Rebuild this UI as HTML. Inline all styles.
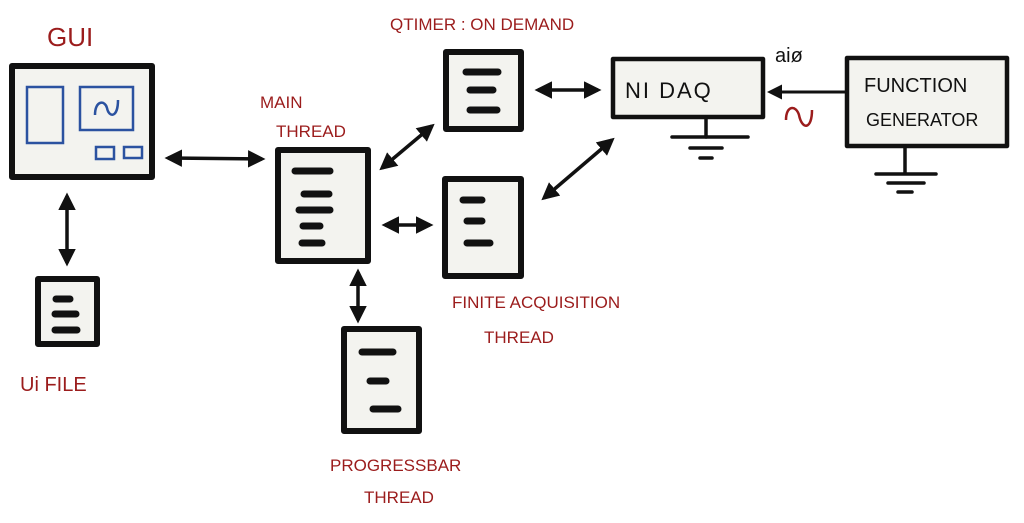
<!DOCTYPE html>
<html><head><style>
body{margin:0;background:#fff}
svg{display:block}
.r{fill:#9b1c1c;font-family:"Liberation Sans",sans-serif;}
.k{fill:#111;font-family:"Liberation Sans",sans-serif;}
</style></head><body>
<svg width="1024" height="523" viewBox="0 0 1024 523">
<defs>
<marker id="h" viewBox="0 0 10 10" refX="8" refY="5" markerWidth="5" markerHeight="5" orient="auto-start-reverse"><path d="M0,0 L10,5 L0,10 Z" fill="#111"/></marker>
</defs>
<g fill="#f3f3ef" stroke="#111" stroke-width="6" stroke-linejoin="round">
<rect x="12" y="66" width="140" height="111"/>
<rect x="278" y="150" width="90" height="111"/>
<rect x="446" y="52" width="75" height="77"/>
<rect x="445" y="179" width="76" height="97"/>
<rect x="38" y="279" width="59" height="65"/>
<rect x="344" y="329" width="75" height="102"/>
<rect x="613" y="59" width="150" height="58" stroke-width="4.5"/>
<rect x="847" y="58" width="160" height="88" stroke-width="4.5"/>
</g>
<g fill="none" stroke="#2b52a0" stroke-width="2.5">
<rect x="27" y="87" width="36" height="56"/>
<rect x="80" y="87" width="53" height="43"/>
<path d="M95,115 C95,100 105,100 107,108 C109,118 118,118 118,100"/>
<rect x="96" y="147" width="18" height="12"/>
<rect x="124" y="147" width="18" height="11"/>
</g>
<g stroke="#111" stroke-width="7" stroke-linecap="round">
<line x1="295" y1="171" x2="330" y2="171"/><line x1="304" y1="194" x2="329" y2="194"/><line x1="299" y1="210" x2="330" y2="210"/><line x1="303" y1="226" x2="320" y2="226"/><line x1="302" y1="243" x2="322" y2="243"/>
<line x1="466" y1="72" x2="498" y2="72"/><line x1="470" y1="90" x2="493" y2="90"/><line x1="470" y1="110" x2="497" y2="110"/>
<line x1="463" y1="200" x2="482" y2="200"/><line x1="467" y1="221" x2="482" y2="221"/><line x1="467" y1="243" x2="490" y2="243"/>
<line x1="56" y1="299" x2="70" y2="299"/><line x1="55" y1="314" x2="76" y2="314"/><line x1="55" y1="330" x2="77" y2="330"/>
<line x1="362" y1="352" x2="393" y2="352"/><line x1="370" y1="381" x2="386" y2="381"/><line x1="373" y1="409" x2="398" y2="409"/>
</g>
<g stroke="#111" stroke-width="3.5" fill="none" marker-start="url(#h)" marker-end="url(#h)">
<line x1="168" y1="158" x2="262" y2="159"/>
<line x1="67" y1="196" x2="67" y2="263"/>
<line x1="382" y1="168" x2="432" y2="126"/>
<line x1="385" y1="225" x2="430" y2="225"/>
<line x1="358" y1="272" x2="358" y2="320"/>
<line x1="538" y1="90" x2="598" y2="90"/>
<line x1="544" y1="198" x2="612" y2="140"/>
</g>
<line x1="845" y1="92" x2="770" y2="92" stroke="#111" stroke-width="3" marker-end="url(#h)"/>
<g stroke="#111" stroke-width="3.5" stroke-linecap="round">
<line x1="706" y1="118" x2="706" y2="137"/><line x1="672" y1="137" x2="748" y2="137"/><line x1="690" y1="148" x2="722" y2="148"/><line x1="700" y1="158" x2="712" y2="158"/>
<line x1="905" y1="147" x2="905" y2="173"/><line x1="876" y1="174" x2="936" y2="174"/><line x1="888" y1="183" x2="924" y2="183"/><line x1="898" y1="192" x2="912" y2="192"/>
</g>
<path d="M786,120 C786,105 796,105 799,115 C802,130 812,130 812,110" stroke="#9b1c1c" stroke-width="2.5" fill="none"/>
<text class="k" x="625" y="98" font-size="22" letter-spacing="2">NI DAQ</text>
<text class="k" x="864" y="92" font-size="20">FUNCTION</text>
<text class="k" x="866" y="126" font-size="18">GENERATOR</text>
<text class="k" x="775" y="62" font-size="20">aiø</text>
<text class="r" x="47" y="46" font-size="26">GUI</text>
<text class="r" x="260" y="108" font-size="17">MAIN</text>
<text class="r" x="276" y="137" font-size="17">THREAD</text>
<text class="r" x="390" y="30" font-size="17">QTIMER : ON DEMAND</text>
<text class="r" x="452" y="308" font-size="17">FINITE ACQUISITION</text>
<text class="r" x="484" y="343" font-size="17">THREAD</text>
<text class="r" x="20" y="391" font-size="20">Ui FILE</text>
<text class="r" x="330" y="471" font-size="17">PROGRESSBAR</text>
<text class="r" x="364" y="503" font-size="17">THREAD</text>
</svg>
</body></html>
